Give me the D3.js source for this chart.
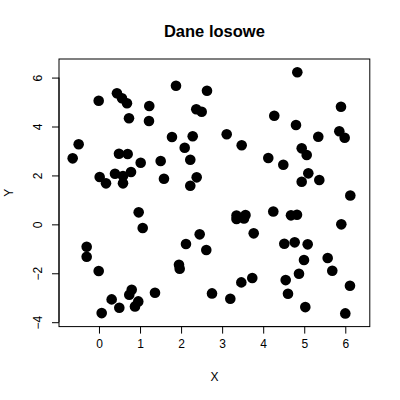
<!DOCTYPE html>
<html>
<head>
<meta charset="utf-8">
<script src="https://cdn.jsdelivr.net/npm/d3@7"></script>
<style>
  html, body { margin: 0; padding: 0; background: #fff; }
  svg { display: block; font-family: "Liberation Sans", Arial, Helvetica, sans-serif; }
</style>
</head>
<body>
<svg id="chart" width="400" height="400"></svg>
<script>
const title = "Dane losowe";
const xLabel = "X";
const yLabel = "Y";
const xTicks = [0, 1, 2, 3, 4, 5, 6];
const yTicks = [-4, -2, 0, 2, 4, 6];
const xDomain = [-0.974, 6.597];
const yDomain = [-4.18, 6.76];

const xValues = [
  1.876, 2.631, -0.007, 0.438, 0.560, 0.682, 1.225, 2.370, 2.502, 0.731,
  1.218, -0.495, -0.641, 1.778, 2.283, 2.088, 0.487, 0.699, 2.224, 1.503,
  1.016, 0.017, 0.171, 0.390, 0.585, 0.585, 0.780, 1.583, 2.380, 2.224,
  4.831, 5.895, 4.270, 4.799, 3.111, 3.476, 5.342, 5.854, 5.985, 4.938,
  5.060, 4.124, 4.490, 5.099, 4.938, 5.367, 6.122, 0.967, 1.065, -0.300,
  -0.300, -0.007, 2.119, 2.453, 2.614, 1.949, 1.966, 0.797, 0.738, 1.364,
  0.309, 0.495, 0.957, 0.877, 0.066, 2.753, 3.350, 3.350, 3.569, 3.532,
  4.246, 4.677, 4.823, 3.769, 5.903, 4.514, 4.767, 5.084, 4.994, 5.571,
  5.683, 4.872, 4.548, 3.467, 3.734, 3.199, 4.604, 5.026, 6.114, 6.000
];
const yValues = [
  5.669, 5.464, 5.055, 5.358, 5.153, 4.949, 4.838, 4.703, 4.605, 4.335,
  4.225, 3.272, 2.699, 3.571, 3.599, 3.133, 2.888, 2.875, 2.642, 2.589,
  2.519, 1.935, 1.677, 2.070, 1.975, 1.677, 2.139, 1.865, 1.922, 1.579,
  6.217, 4.810, 4.442, 4.061, 3.681, 3.231, 3.583, 3.804, 3.542, 3.108,
  2.834, 2.712, 2.438, 2.086, 1.742, 1.812, 1.178, 0.491, -0.151, -0.916,
  -1.325, -1.910, -0.806, -0.409, -1.051, -1.652, -1.816, -2.675, -2.879, -2.798,
  -3.067, -3.411, -3.149, -3.354, -3.628, -2.822, 0.360, 0.217, 0.380, 0.237,
  0.524, 0.368, 0.393, -0.368, 0.000, -0.793, -0.736, -0.818, -1.460, -1.378,
  -1.898, -2.020, -2.278, -2.372, -2.196, -3.043, -2.838, -3.382, -2.511, -3.640
];

const points = xValues.map((x, i) => ({ x: x, y: yValues[i] }));

const mLeft = 59, mRight = 369.8, mTop = 59, mBottom = 326.6;
const svg = d3.select("#chart");

const x = d3.scaleLinear().domain(xDomain).range([mLeft, mRight]);
const y = d3.scaleLinear().domain(yDomain).range([mBottom, mTop]);

// points
svg.append("g")
  .selectAll("circle")
  .data(points)
  .join("circle")
  .attr("cx", d => x(d.x))
  .attr("cy", d => y(d.y))
  .attr("r", 5.3)
  .attr("fill", "#000");

// box
svg.append("rect")
  .attr("x", mLeft).attr("y", mTop)
  .attr("width", mRight - mLeft).attr("height", mBottom - mTop)
  .attr("fill", "none").attr("stroke", "#000").attr("stroke-width", 1);

// x axis
const xAxis = d3.axisBottom(x).tickValues(xTicks).tickFormat(d3.format("d"))
  .tickSize(7).tickPadding(6);
const gx = svg.append("g").attr("transform", `translate(0,${mBottom})`).call(xAxis);
gx.select(".domain").attr("d", `M${x(xTicks[0])},0H${x(xTicks[xTicks.length-1])}`);
gx.selectAll("text").attr("font-size", 12).attr("fill", "#000")
  .attr("font-family", "Liberation Sans, Arial, sans-serif");

// y axis
const yAxis = d3.axisLeft(y).tickValues(yTicks).tickFormat(d3.format("d"))
  .tickSize(7).tickPadding(0);
const gy = svg.append("g").attr("transform", `translate(${mLeft},0)`).call(yAxis);
gy.select(".domain").attr("d", `M0,${y(yTicks[0])}V${y(yTicks[yTicks.length-1])}`);
gy.selectAll(".tick text")
  .attr("font-size", 12).attr("fill", "#000")
  .attr("font-family", "Liberation Sans, Arial, sans-serif")
  .attr("x", null).attr("dy", null)
  .attr("text-anchor", "middle")
  .attr("transform", "translate(-17.5,0) rotate(-90)");

// title
svg.append("text")
  .attr("x", (mLeft + mRight) / 2).attr("y", 37)
  .attr("text-anchor", "middle")
  .attr("font-size", 16.5).attr("font-weight", "bold")
  .text(title);

// axis labels
svg.append("text")
  .attr("x", (mLeft + mRight) / 2).attr("y", 381)
  .attr("text-anchor", "middle").attr("font-size", 12)
  .text(xLabel);

svg.append("text")
  .attr("transform", `translate(13,${(mTop + mBottom) / 2}) rotate(-90)`)
  .attr("text-anchor", "middle").attr("font-size", 12)
  .text(yLabel);
</script>
</body>
</html>
